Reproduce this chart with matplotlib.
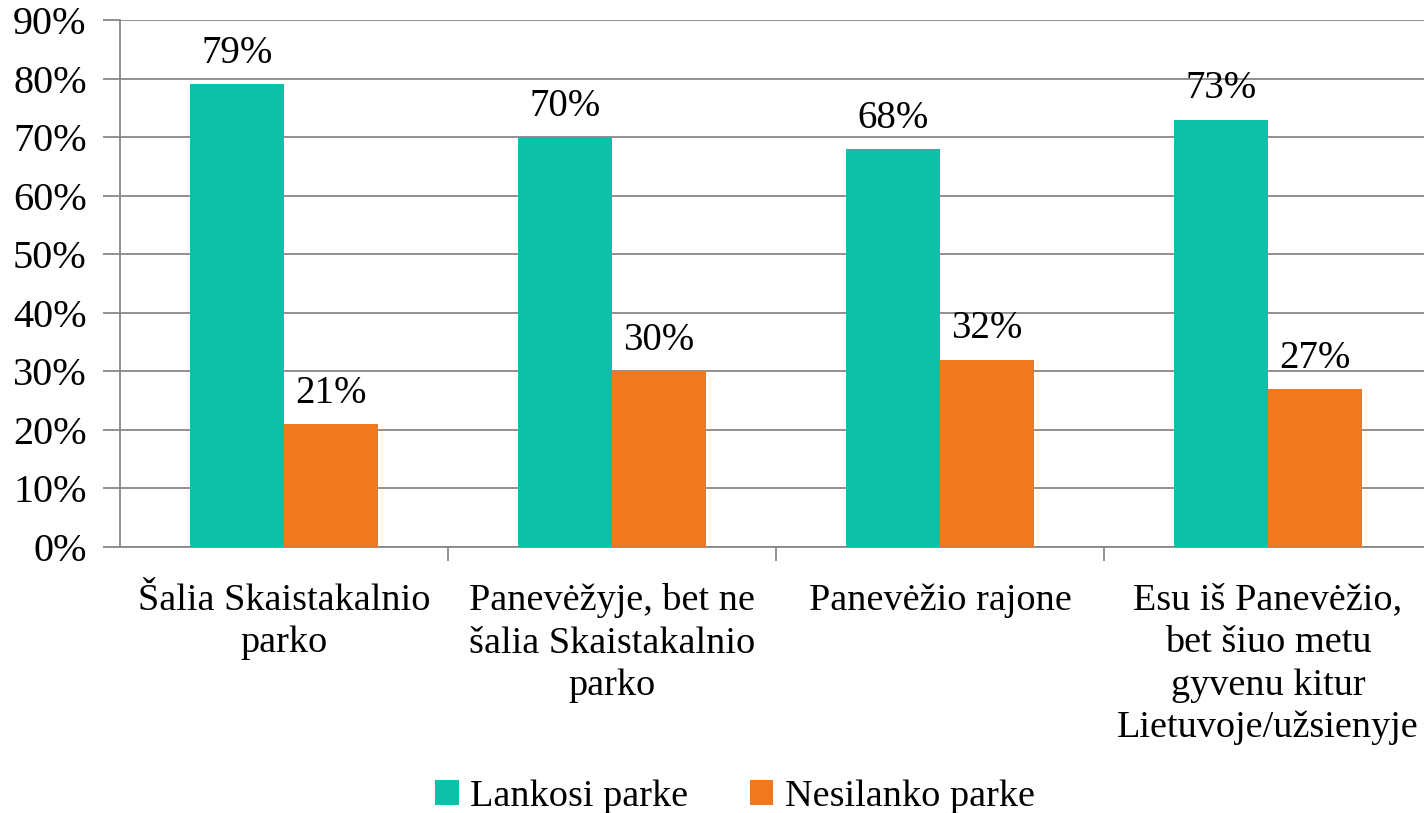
import matplotlib
matplotlib.use("Agg")
import matplotlib.pyplot as plt
import numpy as np

categories = ["Šalia Skaistakalnio\nparko",
              "Panevėžyje, bet ne\nšalia Skaistakalnio\nparko",
              "Panevėžio rajone",
              "Esu iš Panevėžio,\nbet šiuo metu\ngyvenu kitur\nLietuvoje/užsienyje"]
series_names = ["Lankosi parke", "Nesilanko parke"]
lankosi = [79, 70, 68, 73]
nesilanko = [21, 30, 32, 27]
colors = ["#0EC0A8", "#F0781E"]
yticks = [0, 10, 20, 30, 40, 50, 60, 70, 80, 90]

plt.rcParams['font.family'] = ['Liberation Serif', 'DejaVu Serif']

W, H = 1424, 813
fig = plt.figure(figsize=(W/100, H/100), dpi=100)
ax = fig.add_axes([120/W, 1-547/H, 1312/W, 527/H])

x = np.arange(len(categories))
bw = 94/328
for i, (vals, c, name) in enumerate(zip([lankosi, nesilanko], colors, series_names)):
    pos = x + (i - 0.5) * bw
    ax.bar(pos, vals, width=bw, color=c, label=name, zorder=3)
    for p, v in zip(pos, vals):
        ax.text(p, v + 2.1, f"{v}%", ha="center", va="bottom", fontsize=28, zorder=4)

ax.set_xlim(-0.5, len(categories) - 0.5)
ax.set_ylim(0, 90)
ax.set_yticks(yticks)
ax.set_yticklabels([f"{t}%" for t in yticks], fontsize=29)
ax.yaxis.grid(True, color="#888888", linewidth=1.3, zorder=0)
ax.tick_params(axis="y", length=12, width=1.3, color="#888888", pad=12)

ax.set_xticks(np.arange(0.5, len(categories) - 0.5 + 0.01, 1.0), minor=False)
ax.set_xticklabels([])
ax.tick_params(axis="x", which="major", length=10, width=1.3, color="#888888")
ax.set_xticks(x, minor=True)
ax.set_xticklabels(categories, minor=True, fontsize=27.5, linespacing=1.3)
ax.tick_params(axis="x", which="minor", length=0, pad=26)

for s in ["top", "right"]:
    ax.spines[s].set_visible(False)
for s in ["left", "bottom"]:
    ax.spines[s].set_color("#888888")
    ax.spines[s].set_linewidth(1.3)

leg = fig.legend(loc="center", bbox_to_anchor=(735/W, 1-797/H), ncol=2, frameon=False,
                 fontsize=27.5, handlelength=0.62, handleheight=0.62, handletextpad=0.3,
                 columnspacing=1.6)

fig.savefig("out.png", dpi=100)
